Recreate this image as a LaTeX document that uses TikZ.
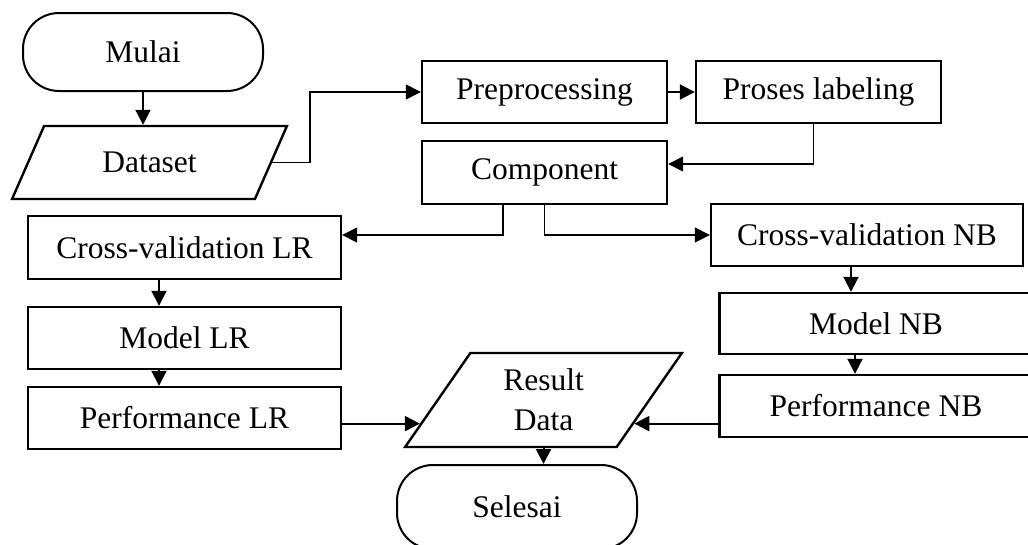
\documentclass[tikz,border=0pt]{standalone}
\usepackage{fontspec}
\setmainfont{Liberation Serif}
\usepackage{tikz}
\usetikzlibrary{arrows.meta,positioning,calc,shapes.geometric}

\begin{document}
\begin{tikzpicture}[x=1pt, y=-1pt,
    box/.style={draw, line width=2.4pt, minimum width=313pt, minimum height=62pt,
      inner sep=0pt, font=\fontsize{31.5}{40}\selectfont},
    term/.style={box, line width=2pt, rounded corners=36pt, minimum width=240pt, minimum height=78pt},
    io/.style={box, trapezium, trapezium stretches=true, align=center},
    arr/.style={line width=2pt, -{Triangle[length=15pt,width=15pt]}},
    thinarr/.style={line width=1.6pt, -{Triangle[length=15pt,width=15pt]}}]
    \useasboundingbox (0,0) rectangle (1028,544);
    \clip (0,0) rectangle (1028,544);

    % start and input
    \node[term] (start) at (143,52) {Mulai};
    \node[io, trapezium left angle=55.6, trapezium right angle=124.4,
      minimum width=275pt, minimum height=73pt] (ds) at (149.5,162.5) {Dataset};

    % top row
    \node[box, minimum width=245pt] (pre) at (544.5,92) {Preprocessing};
    \node[box, minimum width=245pt] (lab) at (818.5,92) {Proses labeling};
    \node[box, minimum width=245pt, minimum height=63pt] (comp) at (544.5,172.5) {Component};

    % LR branch
    \node[box, minimum height=63pt] (cvlr) at (184.5,247.5) {Cross-validation LR};
    \node[box] (mlr) at (184.5,338) {Model LR};
    \node[box] (perflr) at (184.5,418) {Performance LR};

    % NB branch (cut at the right edge)
    \node[box, minimum width=312pt] (cvnb) at (867,235) {Cross-validation NB};
    \node[box, minimum height=61pt] (mnb) at (876,323.5) {Model NB};
    \node[box] (perfnb) at (876,406) {Performance NB};

    % output and end
    \node[io, trapezium left angle=60, trapezium right angle=120,
      minimum width=277pt, minimum height=94pt] (rd) at (543.5,400) {Result\\Data};
    \node[term, minimum height=84pt] (end) at (517,507) {Selesai};
    \coordinate (rdin) at ($(rd.bottom left corner)!0.255!(rd.top left corner)$);
    \coordinate (rdout) at ($(rd.bottom right corner)!0.255!(rd.top right corner)$);

    % connectors
    \draw[arr] (start) -- (start |- ds.north);
    \draw[thinarr] (ds.east) -- ++(38,0) |- (pre.west);
    \draw[arr] (pre) -- (lab);
    \draw[thinarr] ([xshift=-5pt]lab.south) |- ([yshift=8.5pt]comp.east);
    \draw[thinarr] ([xshift=-41.5pt]comp.south) |- (cvnb.west -| cvlr.east);
    \draw[thinarr] (comp.south) |- (cvnb.west);
    \draw[arr] ([xshift=-25.5pt]cvlr.south) -- ([xshift=-25.5pt]cvlr.south |- mlr.north);
    \draw[arr] ([xshift=-25.5pt]mlr.south) -- ([xshift=-25.5pt]mlr.south |- perflr.north);
    \draw[arr] ([xshift=-16pt]cvnb.south) -- ([xshift=-16pt]cvnb.south |- mnb.north);
    \draw[arr] ([xshift=-21pt]mnb.south) -- ([xshift=-21pt]mnb.south |- perfnb.north);
    \draw[arr] (rdin -| perflr.east) -- (rdin);
    \draw[arr] (rdout -| perfnb.west) -- (rdout);
    \draw[arr] (rd.south) -- (rd.south |- end.north);
\end{tikzpicture}
\end{document}
